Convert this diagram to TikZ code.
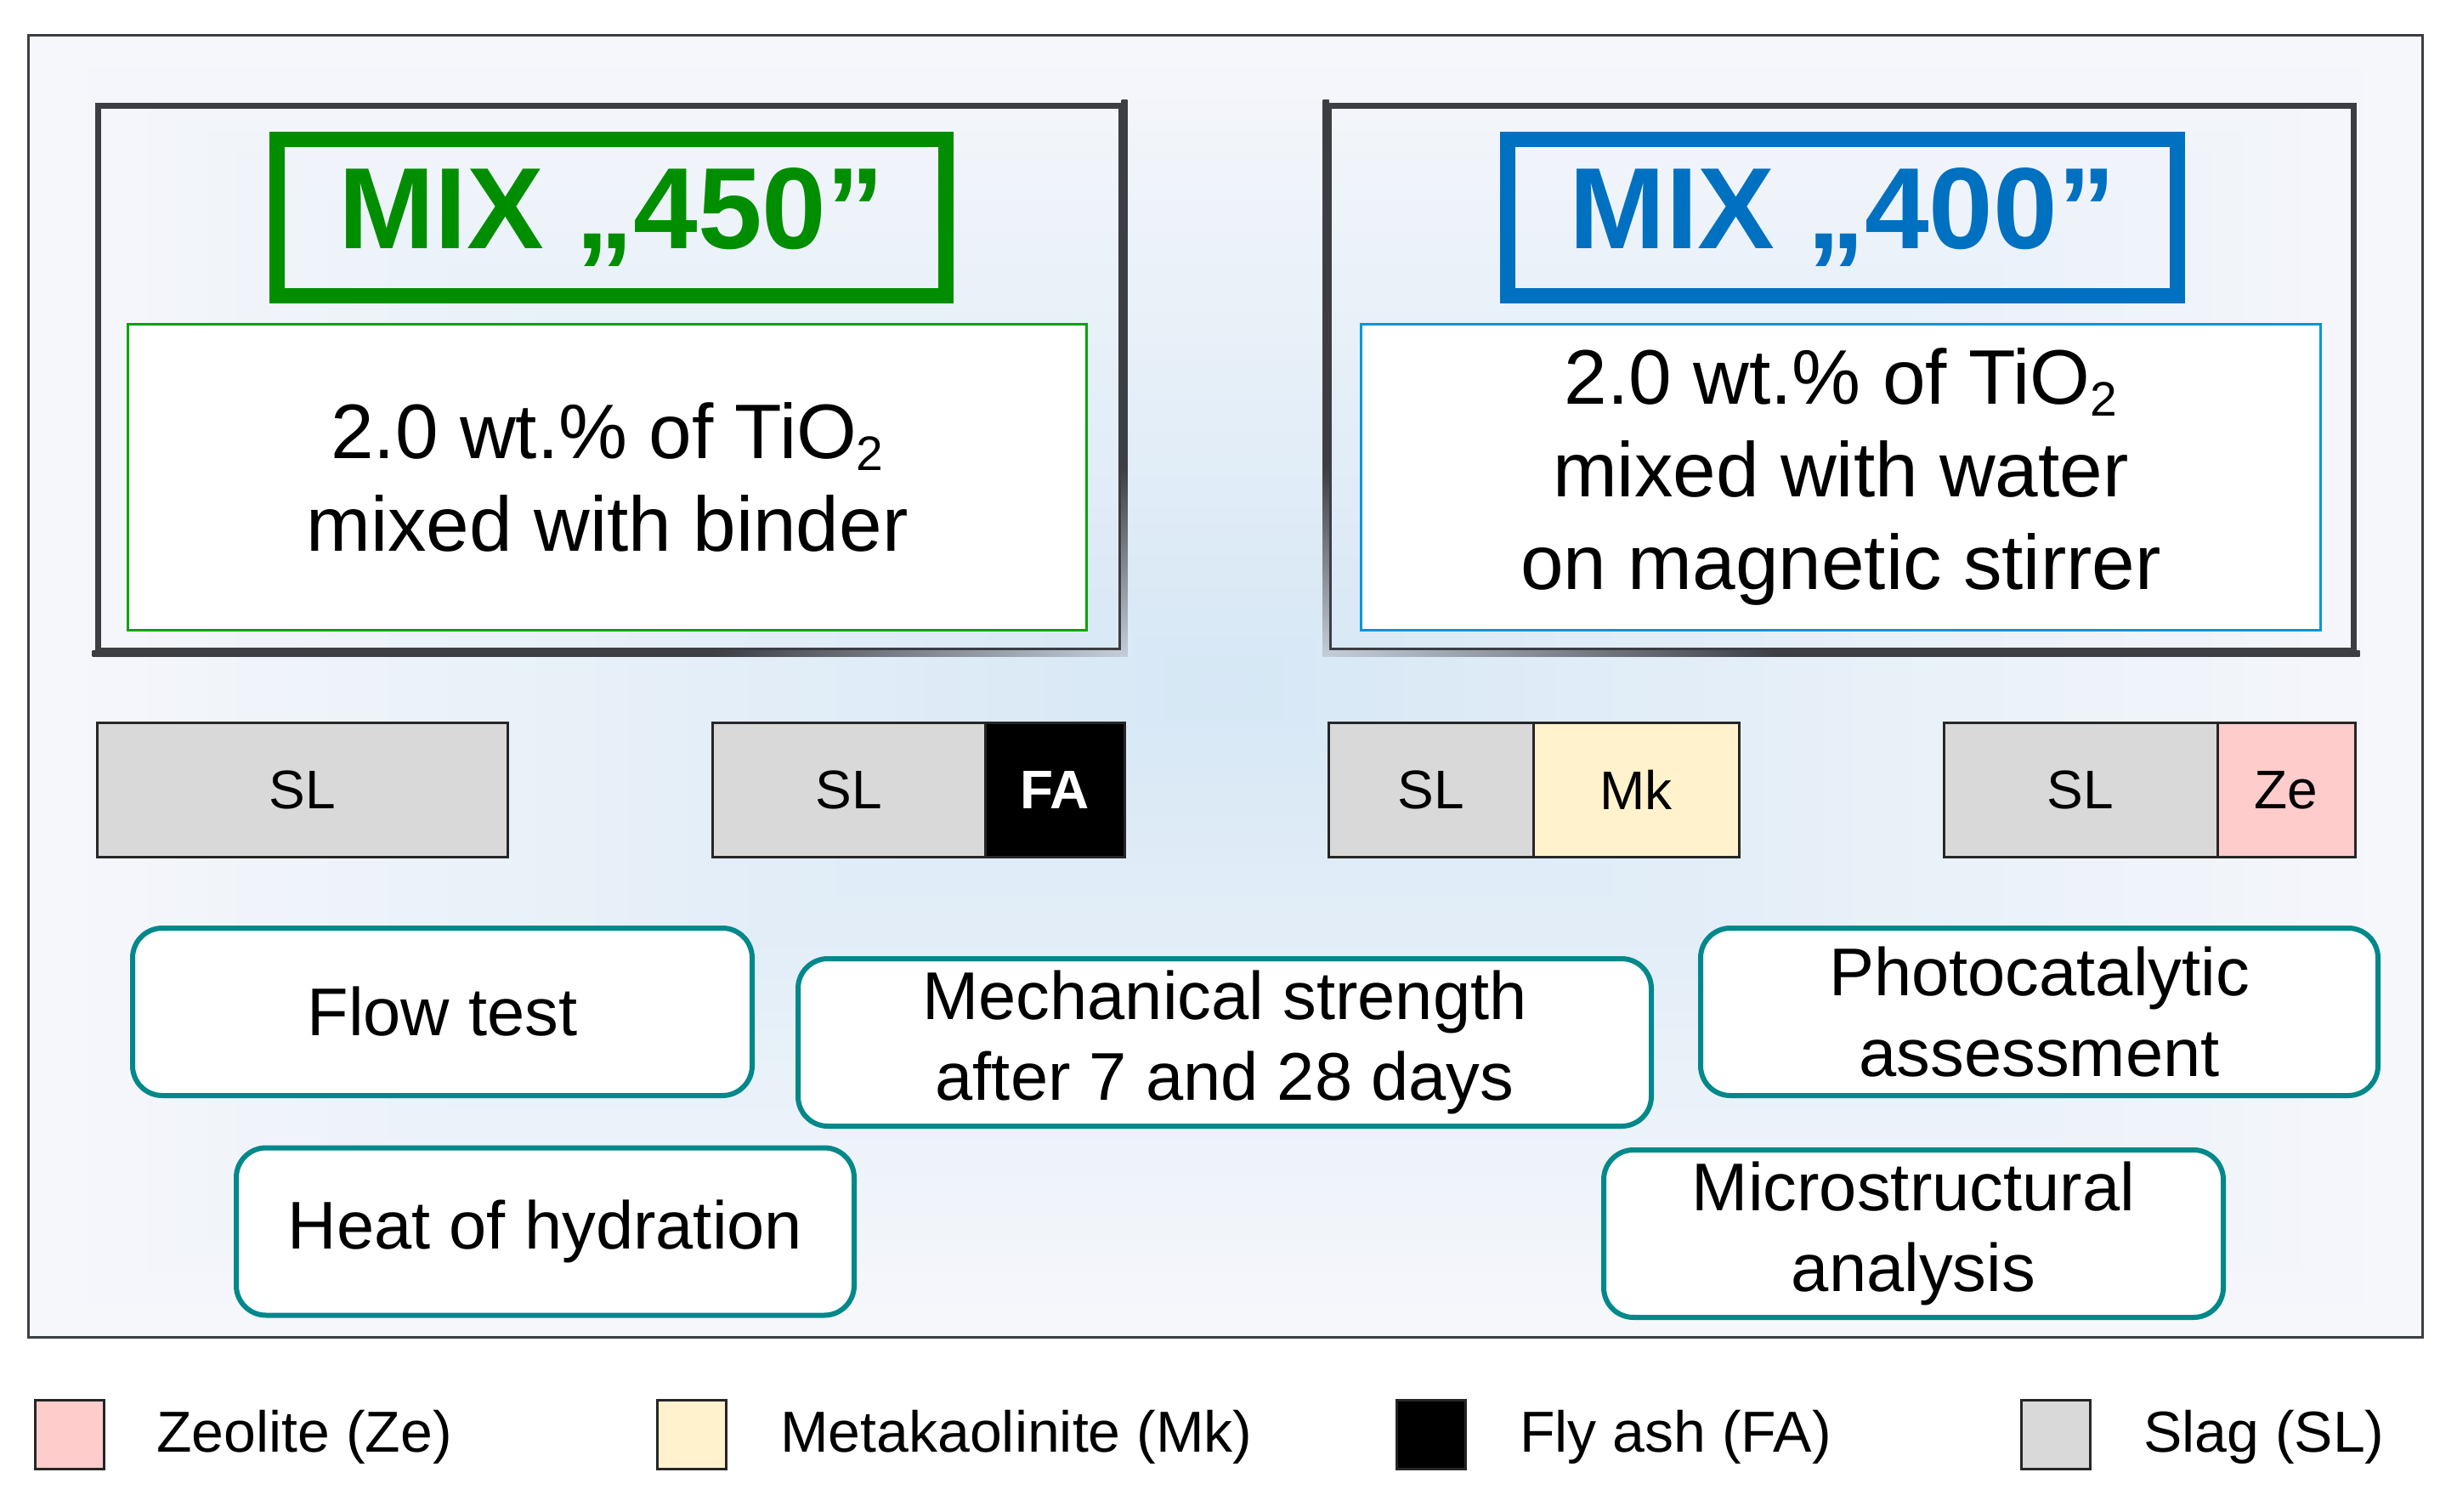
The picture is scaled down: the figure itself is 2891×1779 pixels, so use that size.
\documentclass[tikz,border=0pt]{standalone}
\usepackage{fontspec}
\setmainfont{Liberation Sans}
\definecolor{bgin}{RGB}{214,231,245}
\definecolor{bgout}{RGB}{246,247,251}
\definecolor{pdark}{RGB}{60,62,68}
\definecolor{plight}{RGB}{196,206,218}
\definecolor{mixgreen}{RGB}{0,142,0}
\definecolor{boxgreen}{RGB}{0,165,0}
\definecolor{mixblue}{RGB}{0,112,192}
\definecolor{boxblue}{RGB}{0,150,220}
\definecolor{tealc}{RGB}{0,136,138}
\definecolor{slc}{RGB}{217,217,217}
\definecolor{mkc}{RGB}{255,242,204}
\definecolor{zec}{RGB}{255,204,204}
\definecolor{edgec}{RGB}{38,38,38}
\pgfdeclarehorizontalshading{fadetoright}{100bp}{color(0bp)=(pdark); color(25bp)=(pdark); color(55bp)=(pdark); color(75bp)=(plight); color(100bp)=(plight)}
\pgfdeclarehorizontalshading{fadetoleft}{100bp}{color(0bp)=(plight); color(25bp)=(plight); color(47bp)=(pdark); color(75bp)=(pdark); color(100bp)=(pdark)}
\pgfdeclareverticalshading{fadedown}{100bp}{color(0bp)=(plight); color(25bp)=(plight); color(42bp)=(pdark); color(75bp)=(pdark); color(100bp)=(pdark)}
\newcommand{\mysubtwo}{{\fontsize{57}{57}\selectfont\raisebox{-14pt}{2}}}
\tikzset{
  panel/.style={draw=pdark, line width=7pt, inner sep=0pt},
  mixtitle/.style={draw, line width=18pt, inner sep=0pt, font=\fontsize{136}{136}\selectfont\bfseries},
  mixtext/.style={draw, fill=white, line width=3pt, inner sep=0pt, align=center, font=\fontsize{91}{109}\selectfont},
  bar/.style={draw=edgec, line width=3pt, inner sep=0pt, minimum height=158pt, font=\fontsize{64}{64}\selectfont},
  testbox/.style={draw=tealc, fill=white, line width=6pt, rounded corners=35pt, inner sep=0pt, minimum height=197pt, align=center, font=\fontsize{79.5}{95}\selectfont},
  legsq/.style={draw=edgec, line width=3pt, inner sep=0pt, minimum width=81pt, minimum height=81pt},
  legtxt/.style={anchor=base west, inner sep=0pt, font=\fontsize{68}{68}\selectfont}
}
\begin{document}
\begin{tikzpicture}[x=1pt, y=-1pt]
\useasboundingbox (0,0) rectangle (2891,1779);
\fill[white] (0,0) rectangle (2891,1779);
% outer frame with rectangular gradient
\foreach \i in {40,39,...,1}{
  \pgfmathsetmacro{\fr}{\i/40}
  \pgfmathsetmacro{\pc}{100*\fr}
  \fill[bgout!\pc!bgin] ({1441.5-1408.5*\fr},{807.5-765.5*\fr}) rectangle ({1441.5+1408.5*\fr},{807.5+765.5*\fr});
}
\draw[pdark, line width=3pt] (33,42) rectangle (2850,1573);

% left panel
\node[panel, minimum width=1204pt, minimum height=641pt] (p450) at (717.5,445) {};
\shade[shading=fadetoright] ([xshift=-3.5pt,yshift=-3.5pt]p450.south west) rectangle ([xshift=3.5pt,yshift=3.5pt]p450.south east);
\shade[shading=fadedown] ([xshift=-3.5pt,yshift=3.5pt]p450.north east) rectangle ([xshift=3.5pt,yshift=-3.5pt]p450.south east);
% right panel
\node[panel, minimum width=1206pt, minimum height=641pt] (p400) at (2166.5,445) {};
\shade[shading=fadetoleft] ([xshift=-3.5pt,yshift=-3.5pt]p400.south west) rectangle ([xshift=3.5pt,yshift=3.5pt]p400.south east);
\shade[shading=fadedown] ([xshift=-3.5pt,yshift=3.5pt]p400.north west) rectangle ([xshift=3.5pt,yshift=-3.5pt]p400.south west);

% titles
\node[mixtitle, draw=mixgreen, text=mixgreen, minimum width=787pt, minimum height=184pt] (t450) at (719.5,256) {MIX „450”};
\node[mixtitle, draw=mixblue, text=mixblue, minimum width=788pt, minimum height=184pt] (t400) at (2168,256) {MIX „400”};

% text boxes
\node[mixtext, draw=boxgreen, minimum width=1128pt, minimum height=360pt] (d450) at (714.5,561.5) {2.0 wt.\% of TiO\mysubtwo\\mixed with binder};
\node[mixtext, draw=boxblue, minimum width=1129pt, minimum height=360pt] (d400) at (2166,561) {2.0 wt.\% of TiO\mysubtwo\\mixed with water\\on magnetic stirrer};

% material bars
\node[bar, fill=slc, minimum width=483pt] (b1) at (355.5,929.5) {SL};
\node[bar, fill=slc, minimum width=321pt] (b2a) at (998.5,929.5) {SL};
\node[bar, fill=black, text=white, minimum width=164pt, font=\fontsize{64}{64}\selectfont\bfseries] (b2b) at (1241,929.5) {FA};
\node[bar, fill=slc, minimum width=241pt] (b3a) at (1683.5,929.5) {SL};
\node[bar, fill=mkc, minimum width=242pt] (b3b) at (1925,929.5) {Mk};
\node[bar, fill=slc, minimum width=322pt] (b4a) at (2448,929.5) {SL};
\node[bar, fill=zec, minimum width=162pt] (b4b) at (2690,929.5) {Ze};

% tests
\node[testbox, minimum width=729pt] (flow) at (520.5,1190.5) {Flow test};
\node[testbox, minimum width=727pt] (heat) at (641.5,1449) {Heat of hydration};
\node[testbox, minimum width=1004pt] (mech) at (1441,1226.5) {Mechanical strength\\after 7 and 28 days};
\node[testbox, minimum width=797pt] (photo) at (2399.5,1190.5) {Photocatalytic\\assessment};
\node[testbox, minimum width=729pt] (micro) at (2251.5,1451.5) {Microstructural\\analysis};

% legend
\node[legsq, fill=zec] (lze) at (81.5,1687.5) {};
\node[legtxt] (lzet) at (184,1708) {Zeolite (Ze)};
\node[legsq, fill=mkc] (lmk) at (814,1687.5) {};
\node[legtxt] (lmkt) at (918,1708) {Metakaolinite (Mk)};
\node[legsq, fill=black] (lfa) at (1683.5,1687.5) {};
\node[legtxt] (lfat) at (1788,1708) {Fly ash (FA)};
\node[legsq, fill=slc] (lsl) at (2418.5,1687.5) {};
\node[legtxt] (lslt) at (2522,1708) {Slag (SL)};
\end{tikzpicture}
\end{document}
